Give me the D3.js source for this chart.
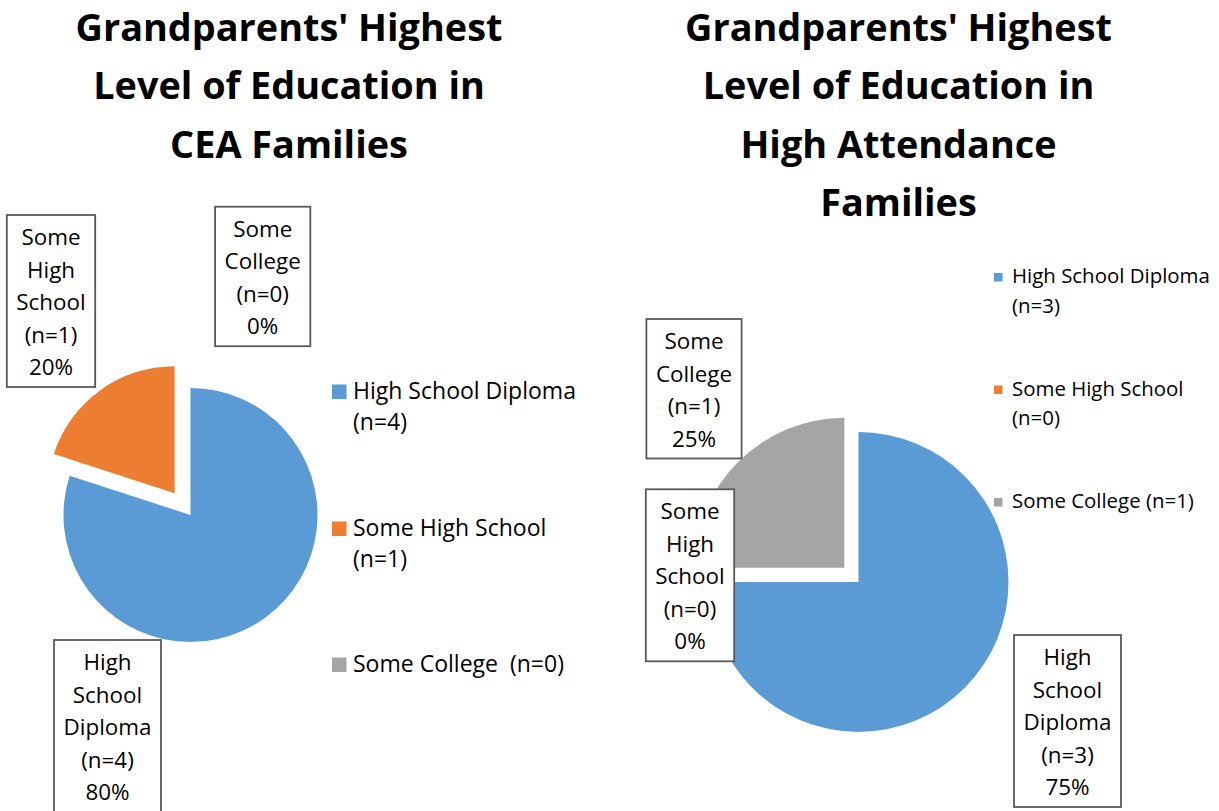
<!DOCTYPE html>
<html>
<head>
<meta charset="utf-8">
<script src="https://cdn.jsdelivr.net/npm/d3@7"></script>
<style>
  body { margin: 0; background: #fff; }
  svg { display: block; font-family: 'Open Sans', sans-serif; }
</style>
</head>
<body>
<script>
// data
const categories = ['High School Diploma', 'Some High School', 'Some College'];
const colors = ['#5B9BD5', '#ED7D31', '#A5A5A5'];
const ceaCounts = [4, 1, 0];
const highAttCounts = [3, 0, 1];
const ceaTitle = ["Grandparents' Highest", 'Level of Education in', 'CEA Families'];
const highAttTitle = ["Grandparents' Highest", 'Level of Education in', 'High Attendance', 'Families'];
const ceaLegend = [['High School Diploma', '(n=4)'], ['Some High School', '(n=1)'], ['Some College  (n=0)']];
const highAttLegend = [['High School Diploma', '(n=3)'], ['Some High School', '(n=0)'], ['Some College (n=1)']];

const width = 1219;
const height = 811;

const svg = d3.select('body').append('svg')
  .attr('width', width)
  .attr('height', height);

const pct = d3.format('.0%');

// pick a font size so that a sample string gets the wanted width
function fitSize(sample, target, weight) {
  const t = svg.append('text')
    .attr('font-size', 40)
    .attr('font-weight', weight)
    .text(sample);
  const w = t.node().getComputedTextLength();
  t.remove();
  return 40 * target / w;
}

const titleSize = fitSize("Grandparents' Highest", 427, 'bold');
const labelSize = fitSize('Diploma', 88, 'normal');

// layout for each chart
const charts = [
  {
    counts: ceaCounts, title: ceaTitle, legend: ceaLegend, exploded: 1,
    titleX: 289, cx: 190.5, cy: 515, r: 127, explode: 27,
    labels: [[107.5, 670], [51, 245], [262.7, 236.7]],
    legendX: 332, legendY: [399, 536, 672], legendDy: 31, sq: 14.5,
    legendSize: fitSize('High School Diploma', 223, 'normal')
  },
  {
    counts: highAttCounts, title: highAttTitle, legend: highAttLegend, exploded: 2,
    titleX: 898.5, cx: 858.5, cy: 582, r: 150, explode: 20,
    labels: [[1067.5, 665], [690, 519.3], [694, 349]],
    legendX: 994, legendY: [283, 395.5, 508], legendDy: 29.5, sq: 8.5,
    legendSize: fitSize('High School Diploma', 198, 'normal')
  }
];

charts.forEach(c => drawPie(c));

function drawPie(c) {
  const g = svg.append('g');
  const total = d3.sum(c.counts);

  // title
  g.append('text')
    .attr('text-anchor', 'middle')
    .attr('font-weight', 'bold')
    .attr('font-size', titleSize)
    .attr('fill', '#000')
    .selectAll('tspan')
    .data(c.title)
    .enter()
    .append('tspan')
    .attr('x', c.titleX)
    .attr('y', (d, i) => 41 + i * 58.3)
    .text(d => d);

  const pie = d3.pie().sort(null).value(d => d).startAngle(0).endAngle(2 * Math.PI);
  const arc = d3.arc().innerRadius(0).outerRadius(c.r);
  const arcs = pie(c.counts);

  g.selectAll('path.slice')
    .data(arcs.filter(d => d.value > 0))
    .enter()
    .append('path')
    .attr('class', 'slice')
    .attr('d', arc)
    .attr('transform', d => {
      let dx = 0, dy = 0;
      if (d.index === c.exploded) {
        const mid = (d.startAngle + d.endAngle) / 2;
        dx = c.explode * Math.sin(mid);
        dy = -c.explode * Math.cos(mid);
      }
      return `translate(${c.cx + dx}, ${c.cy + dy})`;
    })
    .style('fill', d => colors[d.index]);

  // data labels in boxes
  arcs.forEach((d, i) => {
    const lines = categories[i].split(' ').concat([`(n=${d.value})`, pct(d.value / total)]);
    const [lx, ly] = c.labels[i];
    const lg = g.append('g');
    const box = lg.append('rect');
    const t = lg.append('text')
      .attr('text-anchor', 'middle')
      .attr('font-size', labelSize)
      .attr('fill', '#000');
    t.selectAll('tspan')
      .data(lines)
      .enter()
      .append('tspan')
      .attr('x', lx)
      .attr('y', (s, j) => ly + j * 32.5)
      .text(s => s);
    const bb = t.node().getBBox();
    const bw = bb.width + 19;
    box.attr('x', lx - bw / 2)
      .attr('y', ly - 30)
      .attr('width', bw)
      .attr('height', (lines.length - 1) * 32.5 + 42)
      .style('fill', '#fff')
      .style('stroke', '#595959')
      .style('stroke-width', '1.8px');
  });

  // legend
  const leg = g.selectAll('g.legend')
    .data(c.legend)
    .enter()
    .append('g')
    .attr('class', 'legend');

  leg.append('rect')
    .attr('x', c.legendX)
    .attr('y', (d, i) => c.legendY[i] - c.sq - (c.sq < 10 ? 1.5 : 0))
    .attr('width', c.sq)
    .attr('height', c.sq)
    .style('fill', (d, i) => colors[i]);

  leg.append('text')
    .attr('font-size', c.legendSize)
    .attr('fill', '#000')
    .style('white-space', 'pre')
    .each(function (d, i) {
      d3.select(this).selectAll('tspan')
        .data(d)
        .enter()
        .append('tspan')
        .attr('x', c.legendX + (c.sq > 10 ? 21 : 18))
        .attr('y', (s, j) => c.legendY[i] + j * c.legendDy)
        .text(s => s);
    });
}
</script>
</body>
</html>
